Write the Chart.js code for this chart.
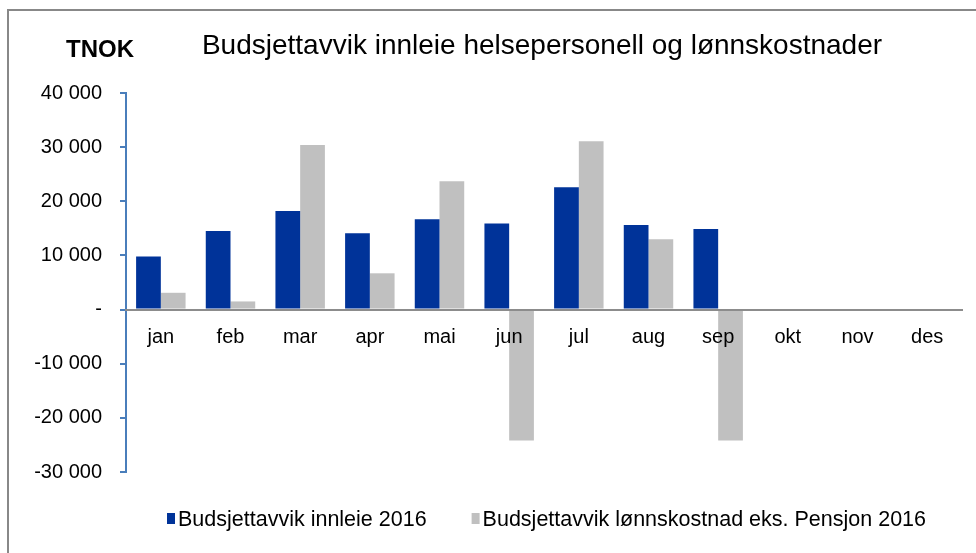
<!DOCTYPE html>
<html>
<head>
<meta charset="utf-8">
<script src="https://cdn.jsdelivr.net/npm/chart.js@4.4.1/dist/chart.umd.min.js"></script>
<style>
	body { margin: 0; background: #fff; }
	#wrap { position: relative; width: 976px; height: 553px; }
</style>
</head>
<body>
<div id="wrap"><canvas id="budsjettChart"></canvas></div>
<script>
	// Data
	var months = ['jan', 'feb', 'mar', 'apr', 'mai', 'jun', 'jul', 'aug', 'sep', 'okt', 'nov', 'des'];
	var innleie = [9800, 14500, 18200, 14100, 16700, 15900, 22600, 15600, 14900, null, null, null];
	var lonn = [3100, 1500, 30400, 6700, 23700, -24200, 31100, 13000, -24200, null, null, null];
	var seriesNames = ['Budsjettavvik innleie 2016', 'Budsjettavvik lønnskostnad eks. Pensjon 2016'];
	var seriesColors = ['#003399', '#c0c0c0'];

	var FONT = "'Liberation Sans', Arial, sans-serif";

	//Format 30000 -> "30 000", 0 -> "-"
	function formatTick(v)
	{
		if (v === 0) return '-';
		var s = String(Math.abs(v)).replace(/\B(?=(\d{3})+(?!\d))/g, ' ');
		return (v < 0 ? '-' : '') + s;
	}

	//Frame, title, unit label and legend
	var decorations = {
		id: 'decorations',
		beforeDraw: function(chart)
		{
			var ctx = chart.ctx;
			ctx.save();
			ctx.strokeStyle = '#888888';
			ctx.lineWidth = 2;
			ctx.beginPath();
			ctx.moveTo(8, 560);
			ctx.lineTo(8, 10);
			ctx.lineTo(980, 10);
			ctx.stroke();
			ctx.restore();
		},
		afterDraw: function(chart)
		{
			var ctx = chart.ctx;
			ctx.save();
			ctx.fillStyle = '#000';
			ctx.textBaseline = 'middle';

			ctx.font = 'bold 24px ' + FONT;
			ctx.textAlign = 'center';
			ctx.fillText('TNOK', 100, 50);

			ctx.font = '28px ' + FONT;
			ctx.fillText('Budsjettavvik innleie helsepersonell og lønnskostnader', 542, 46);

			//legend
			ctx.font = '21.5px ' + FONT;
			ctx.textAlign = 'left';
			var x = 167;
			for (var i = 0; i < chart.data.datasets.length; i++)
			{
				var ds = chart.data.datasets[i];
				ctx.fillStyle = ds.backgroundColor;
				ctx.fillRect(x, 513, 8, 11);
				ctx.fillStyle = '#000';
				ctx.fillText(ds.label, x + 11, 520);
				x = x + 11 + ctx.measureText(ds.label).width + 45;
			}
			ctx.restore();
		}
	};

	var ctx = document.getElementById('budsjettChart').getContext('2d');

	var budsjettChart = new Chart(ctx, {
		type: 'bar',
		data: {
			labels: months,
			datasets: [
				{ label: seriesNames[0], data: innleie, backgroundColor: seriesColors[0] },
				{ label: seriesNames[1], data: lonn, backgroundColor: seriesColors[1] }
			]
		},
		options: {
			responsive: true,
			maintainAspectRatio: false,
			animation: false,
			datasets: {
				bar: { categoryPercentage: 0.71, barPercentage: 1.0 }
			},
			layout: {
				padding: { left: 0, right: 14, top: 93, bottom: 81 }
			},
			plugins: {
				legend: { display: false },
				title: { display: false },
				tooltip: { enabled: false }
			},
			scales: {
				x: {
					position: { y: 0 },
					grid: { display: false },
					border: { display: true, color: '#8c8c8c', width: 2, z: 1 },
					ticks: {
						z: 1,
						color: '#000',
						padding: 8,
						font: { family: FONT, size: 20 }
					}
				},
				y: {
					min: -30000,
					max: 40000,
					afterFit: function(scale) { scale.width = 126; },
					grid: {
						drawOnChartArea: false,
						drawTicks: true,
						tickLength: 6,
						color: '#4a7ebb',
						lineWidth: 2
					},
					border: { display: true, color: '#4a7ebb', width: 2 },
					ticks: {
						stepSize: 10000,
						color: '#000',
						padding: 18,
						font: { family: FONT, size: 20 },
						callback: function(value) { return formatTick(value); }
					}
				}
			}
		},
		plugins: [decorations]
	});
</script>
</body>
</html>
